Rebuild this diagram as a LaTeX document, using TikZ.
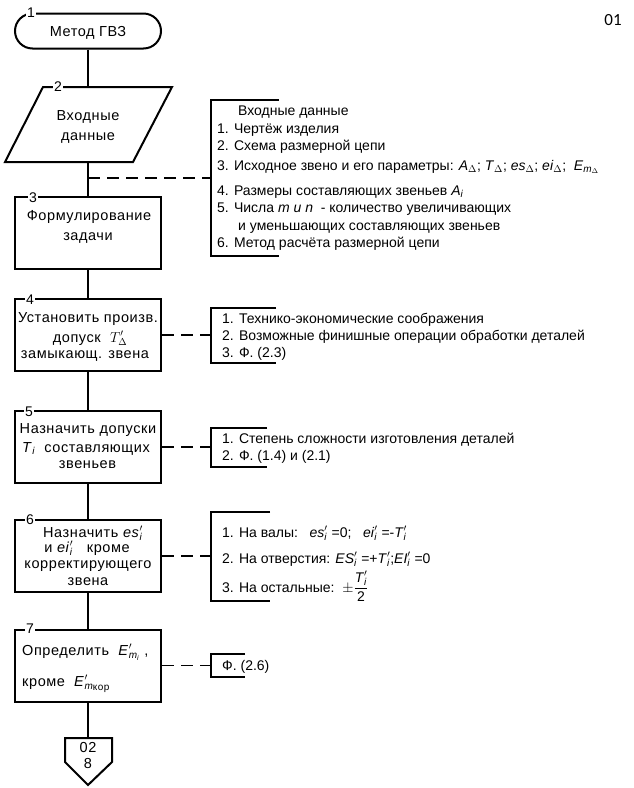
\documentclass[tikz,border=0pt]{standalone}
\usepackage{fontspec}
\setmainfont{Liberation Sans}
\newfontfamily\calib{Carlito}
\newfontfamily\boxfont[LetterSpace=4]{Liberation Sans}
\usetikzlibrary{shapes.misc}
\newcommand\fsz{\fontsize{14}{16}\selectfont}
\newcommand\bsz{\boxfont\fontsize{14.5}{17}\selectfont}
\newcommand\Sb[1]{\ensuremath{_{\mbox{\fontsize{10}{10}\selectfont\itshape #1}}}}
\newcommand\SbP[1]{\ensuremath{^{\prime}_{\mbox{\fontsize{10}{10}\selectfont\itshape #1}}}}
\begin{document}
\begin{tikzpicture}[x=1pt,y=-1pt,
  blk/.style={draw,line width=2pt,minimum width=146pt,minimum height=72pt,inner sep=0pt},
  term/.style={draw,line width=2pt,rounded rectangle,minimum width=146pt,minimum height=35pt,inner sep=0pt},
  conn/.style={line width=1.3pt},
  dsh/.style={line width=1.3pt,dash pattern=on 12pt off 7pt},
  brk/.style={line width=1.3pt},
  num/.style={fill=white,inner sep=1.5pt,anchor=base,font=\fsz},
  txt/.style={inner sep=0pt,anchor=base,font=\bsz},
  btx/.style={inner sep=0pt,anchor=base west,font=\bsz},
  ltx/.style={inner sep=0pt,anchor=base west,font=\fsz}]
\useasboundingbox (0,0) rectangle (634,788);
\node[inner sep=0pt,anchor=base,font=\calib\fontsize{17}{17}\selectfont] (pg) at (613,25) {01};
% blocks
\node[term] (n1) at (88,31) {};
\coordinate (p2t) at (88,87);
\coordinate (p2b) at (88,162);
\draw[line width=2pt] (43,87) -- (172,87) -- (133,162) -- (5,162) -- cycle;
\node[blk] (n3) at (88,233) {};
\node[blk] (n4) at (88,335) {};
\node[blk] (n5) at (88,447) {};
\node[blk] (n6) at (88,556) {};
\node[blk] (n7) at (88,665.5) {};
\coordinate (op) at (88,738);
\draw[line width=2pt] (op) -- (112,738) -- (112,762) -- (88,785) -- (65,762) -- (65,738) -- cycle;
% connectors
\draw[conn] (n1.south) -- (p2t);
\draw[conn] (p2b) -- (n3.north);
\draw[conn] (n3.south) -- (n4.north);
\draw[conn] (n4.south) -- (n5.north);
\draw[conn] (n5.south) -- (n6.north);
\draw[conn] (n6.south) -- (n7.north);
\draw[conn] (n7.south) -- (op);
% number labels
\node[num] (l1) at (31,17.5) {1};
\node[num] (l2) at (58,91.5) {2};
\node[num] (l3) at (33,202) {3};
\node[num] (l4) at (30,304) {4};
\node[num] (l5) at (29,416) {5};
\node[num] (l6) at (30,524.5) {6};
\node[num] (l7) at (30,633.5) {7};
% block texts
\node[txt] (t1) at (88,36) {Метод ГВЗ};
\node[txt] (t2a) at (88,120) {Входные};
\node[txt] (t2b) at (88,140) {данные};
\node[txt] (t3a) at (89,220) {Формулирование};
\node[txt] (t3b) at (88,240) {задачи};
\node[txt] (t4a) at (88,322) {Установить произв.};
\node[txt] (t4b) at (90,342) {допуск\ \ $T^{\prime}_{\Delta}$};
\node[txt] (t4c) at (85,358) {замыкающ. звена};
\node[txt] (t5a) at (88,433) {Назначить допуски};
\node[txt] (t5b) at (86,452) {\textit{T}\Sb{i}\ \ составляющих};
\node[txt] (t5c) at (87.5,468) {звеньев};
\node[txt] (t6a) at (93,537) {Назначить \textit{es}\SbP{i}};
\node[txt] (t6b) at (87,552) {и \textit{ei}\SbP{i}\ \ \ кроме};
\node[txt] (t6c) at (88,568) {корректирующего};
\node[txt] (t6d) at (88,585) {звена};
\node[btx] (t7a) at (22,655) {Определить\ \ \textit{E}\ensuremath{^{\prime}_{\mbox{\fontsize{10}{10}\selectfont\itshape m}_{\mbox{\fontsize{7}{7}\selectfont\itshape i}}}}\ ,};
\node[btx] (t7b) at (22,686) {кроме\ \ \textit{E}\ensuremath{^{\prime}_{\mbox{\fontsize{10}{10}\selectfont\itshape m\upshape\raisebox{-1pt}{кор}}}}};
\node[txt] (t8a) at (88,752) {02};
\node[txt] (t8b) at (88,768) {8};
% dashed links and brackets
\coordinate (j1) at (88,178);
\coordinate (k1) at (211,178);
\coordinate (k4) at (211,335);
\coordinate (k5) at (211,447);
\coordinate (k6) at (211,556);
\coordinate (k7) at (211,665.5);
\draw[dsh] (j1) -- (k1);
\draw[dsh] (n4.east) -- (k4);
\draw[dsh] (n5.east) -- (k5);
\draw[dsh] (n6.east) -- (k6);
\draw[dsh] (n7.east) -- (k7);
\draw[brk] (279,100) -- (211,100) -- (211,256) -- (279,256);
\draw[brk] (276,308) -- (211,308) -- (211,363) -- (276,363);
\draw[brk] (267,428) -- (211,428) -- (211,467) -- (267,467);
\draw[brk] (270,512) -- (211,512) -- (211,601) -- (270,601);
\draw[brk] (245,654) -- (211,654) -- (211,677) -- (245,677);
% bracket texts
\node[ltx] (b1a) at (238,115) {Входные данные};
\node[ltx] (b1b) at (217,133) {1. Чертёж изделия};
\node[ltx] (b1c) at (217,150) {2. Схема размерной цепи};
\node[ltx] (b1d) at (217,170) {3. Исходное звено и его параметры: \textit{A}\ensuremath{_{\Delta}}; \textit{T}\ensuremath{_{\Delta}}; \textit{es}\ensuremath{_{\Delta}}; \textit{ei}\ensuremath{_{\Delta}};\ \ \textit{E}\ensuremath{_{\mbox{\fontsize{10}{10}\selectfont\itshape m}_{\Delta}}}};
\node[ltx] (b1e) at (217,195) {4. Размеры составляющих звеньев \textit{A}\Sb{i}};
\node[ltx] (b1f) at (217,212) {5. Числа \textit{m и n}\ \ - количество увеличивающих};
\node[ltx] (b1g) at (238,230) {и уменьшающих составляющих звеньев};
\node[ltx] (b1h) at (217,247) {6. Метод расчёта размерной цепи};
\node[ltx] (b4a) at (222,323) {1. Технико-экономические соображения};
\node[ltx] (b4b) at (222,340) {2. Возможные финишные операции обработки деталей};
\node[ltx] (b4c) at (222,357) {3. Ф. (2.3)};
\node[ltx] (b5a) at (222,443) {1. Степень сложности изготовления деталей};
\node[ltx] (b5b) at (222,460) {2. Ф. (1.4) и (2.1)};
\node[ltx] (b6a) at (222,537) {1. На валы:\ \ \ \textit{es}\SbP{i}\ =0;\ \ \ \textit{ei}\SbP{i}\ =-\textit{T}\SbP{i}};
\node[ltx] (b6b) at (222,563) {2. На отверстия: \textit{ES}\SbP{i}\ =+\textit{T}\SbP{i};\textit{EI}\SbP{i}\ =0};
\node[ltx] (b6c) at (222,592) {3. На остальные:\ \ $\displaystyle\pm\frac{\mbox{\textit{T}}^{\prime}_{\mbox{\fontsize{10}{10}\selectfont\itshape i}}}{\mbox{2}}$};
\node[ltx] (b7a) at (222,670) {Ф. (2.6)};
\end{tikzpicture}
\end{document}
